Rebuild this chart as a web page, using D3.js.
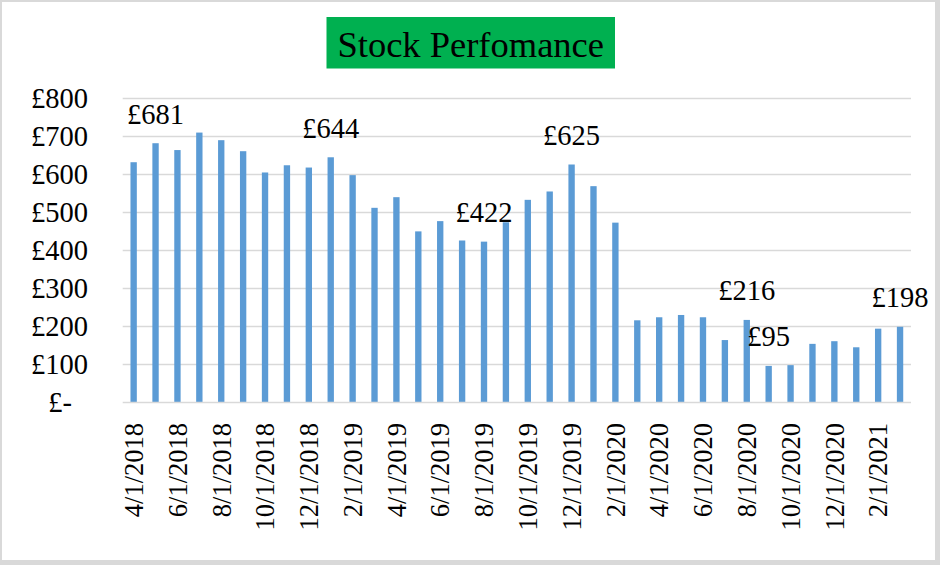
<!DOCTYPE html>
<html>
<head>
<meta charset="utf-8">
<script src="https://cdn.jsdelivr.net/npm/d3@7"></script>
<style>
  html, body { margin: 0; padding: 0; background: #fff; }
  svg { display: block; }
  text { font-family: "Liberation Serif", "Times New Roman", serif; fill: #000; }
</style>
</head>
<body>
<svg id="chart" width="940" height="565"></svg>
<script>
// ---- data ----
const months = [
  "4/1/2018","5/1/2018","6/1/2018","7/1/2018","8/1/2018","9/1/2018","10/1/2018","11/1/2018","12/1/2018",
  "1/1/2019","2/1/2019","3/1/2019","4/1/2019","5/1/2019","6/1/2019","7/1/2019","8/1/2019","9/1/2019",
  "10/1/2019","11/1/2019","12/1/2019","1/1/2020","2/1/2020","3/1/2020","4/1/2020","5/1/2020","6/1/2020",
  "7/1/2020","8/1/2020","9/1/2020","10/1/2020","11/1/2020","12/1/2020","1/1/2021","2/1/2021","3/1/2021"
];
const prices = [
  631, 681, 663, 709, 689, 660, 604, 623, 617,
  644, 597, 511, 539, 449, 476, 425, 422, 473,
  532, 554, 625, 568, 472, 215, 223, 229, 223,
  163, 216, 95, 97, 153, 160, 144, 193, 198
];
const labelledMonths = ["5/1/2018","1/1/2019","8/1/2019","12/1/2019","8/1/2020","9/1/2020","3/1/2021"];
const xTickMonths = months.filter((m, i) => i % 2 === 0);
const yTickValues = [0, 100, 200, 300, 400, 500, 600, 700, 800];
const yTickLabels = ["£-", "£100", "£200", "£300", "£400", "£500", "£600", "£700", "£800"];
const titleText = "Stock Perfomance";

// ---- drawing ----
const svg = d3.select("#chart");
const W = 940, H = 565;

// frame
svg.append("rect").attr("x", 0).attr("y", 0).attr("width", W).attr("height", H).attr("fill", "#D9D9D9");
svg.append("rect").attr("x", 2).attr("y", 2).attr("width", 933).attr("height", 558).attr("fill", "#fff");

const plot = { left: 122.7, right: 911, top: 98, bottom: 402 };

const x = d3.scaleBand().domain(months).range([plot.left, plot.right])
  .paddingInner(0.71).paddingOuter(0.355);
const y = d3.scaleLinear().domain([0, 800]).range([plot.bottom, plot.top]);

// gridlines
svg.append("g")
  .selectAll("line")
  .data(yTickValues.filter(v => v > 0))
  .join("line")
  .attr("x1", plot.left).attr("x2", plot.right)
  .attr("y1", d => Math.round(y(d)) + 0.5).attr("y2", d => Math.round(y(d)) + 0.5)
  .attr("stroke", "#D9D9D9").attr("stroke-width", 1.3);

// y axis labels
const yAxis = d3.axisLeft(y).tickValues(yTickValues)
  .tickFormat((d, i) => yTickLabels[i]).tickSize(0).tickPadding(0);
const gy = svg.append("g").attr("transform", `translate(88,0)`).call(yAxis);
gy.select(".domain").remove();
gy.selectAll("text")
  .style("font-family", '"Liberation Serif", "Times New Roman", serif')
  .style("font-size", "28.5px").attr("fill", "#000")
  .attr("dx", d => d === 0 ? -16 : 0);

// bars
svg.append("g")
  .selectAll("rect")
  .data(months.map((m, i) => ({ m, v: prices[i] })))
  .join("rect")
  .attr("x", d => x(d.m))
  .attr("width", x.bandwidth())
  .attr("y", d => y(d.v))
  .attr("height", d => y(0) - y(d.v))
  .attr("fill", "#5B9BD5");

// x axis
const xAxis = d3.axisBottom(x).tickValues(xTickMonths).tickSize(0).tickPadding(0);
const gx = svg.append("g").attr("transform", `translate(0,${plot.bottom})`).call(xAxis);
gx.select(".domain").attr("stroke", "#D9D9D9").attr("stroke-width", 1.3)
  .attr("d", `M${plot.left},0.5H${plot.right}`);
gx.selectAll("text")
  .style("font-family", '"Liberation Serif", "Times New Roman", serif')
  .style("font-size", "26.5px").attr("fill", "#000")
  .attr("text-anchor", "end")
  .attr("transform", "rotate(-90)")
  .attr("x", -21).attr("y", 0).attr("dy", "0.35em");

// data labels
svg.append("g")
  .selectAll("text")
  .data(months.map((m, i) => ({ m, v: prices[i] })).filter(d => labelledMonths.includes(d.m)))
  .join("text")
  .attr("x", d => x(d.m) + x.bandwidth() / 2)
  .attr("y", d => y(d.v) - 19.5)
  .attr("text-anchor", "middle")
  .style("font-size", "28.5px")
  .text(d => "£" + d.v);

// title
svg.append("rect").attr("x", 326.5).attr("y", 17).attr("width", 288.5).attr("height", 51.5).attr("fill", "#00B050");
svg.append("text").attr("x", 470.75).attr("y", 56.5).attr("text-anchor", "middle")
  .style("font-size", "36.5px").text(titleText);
</script>
</body>
</html>
